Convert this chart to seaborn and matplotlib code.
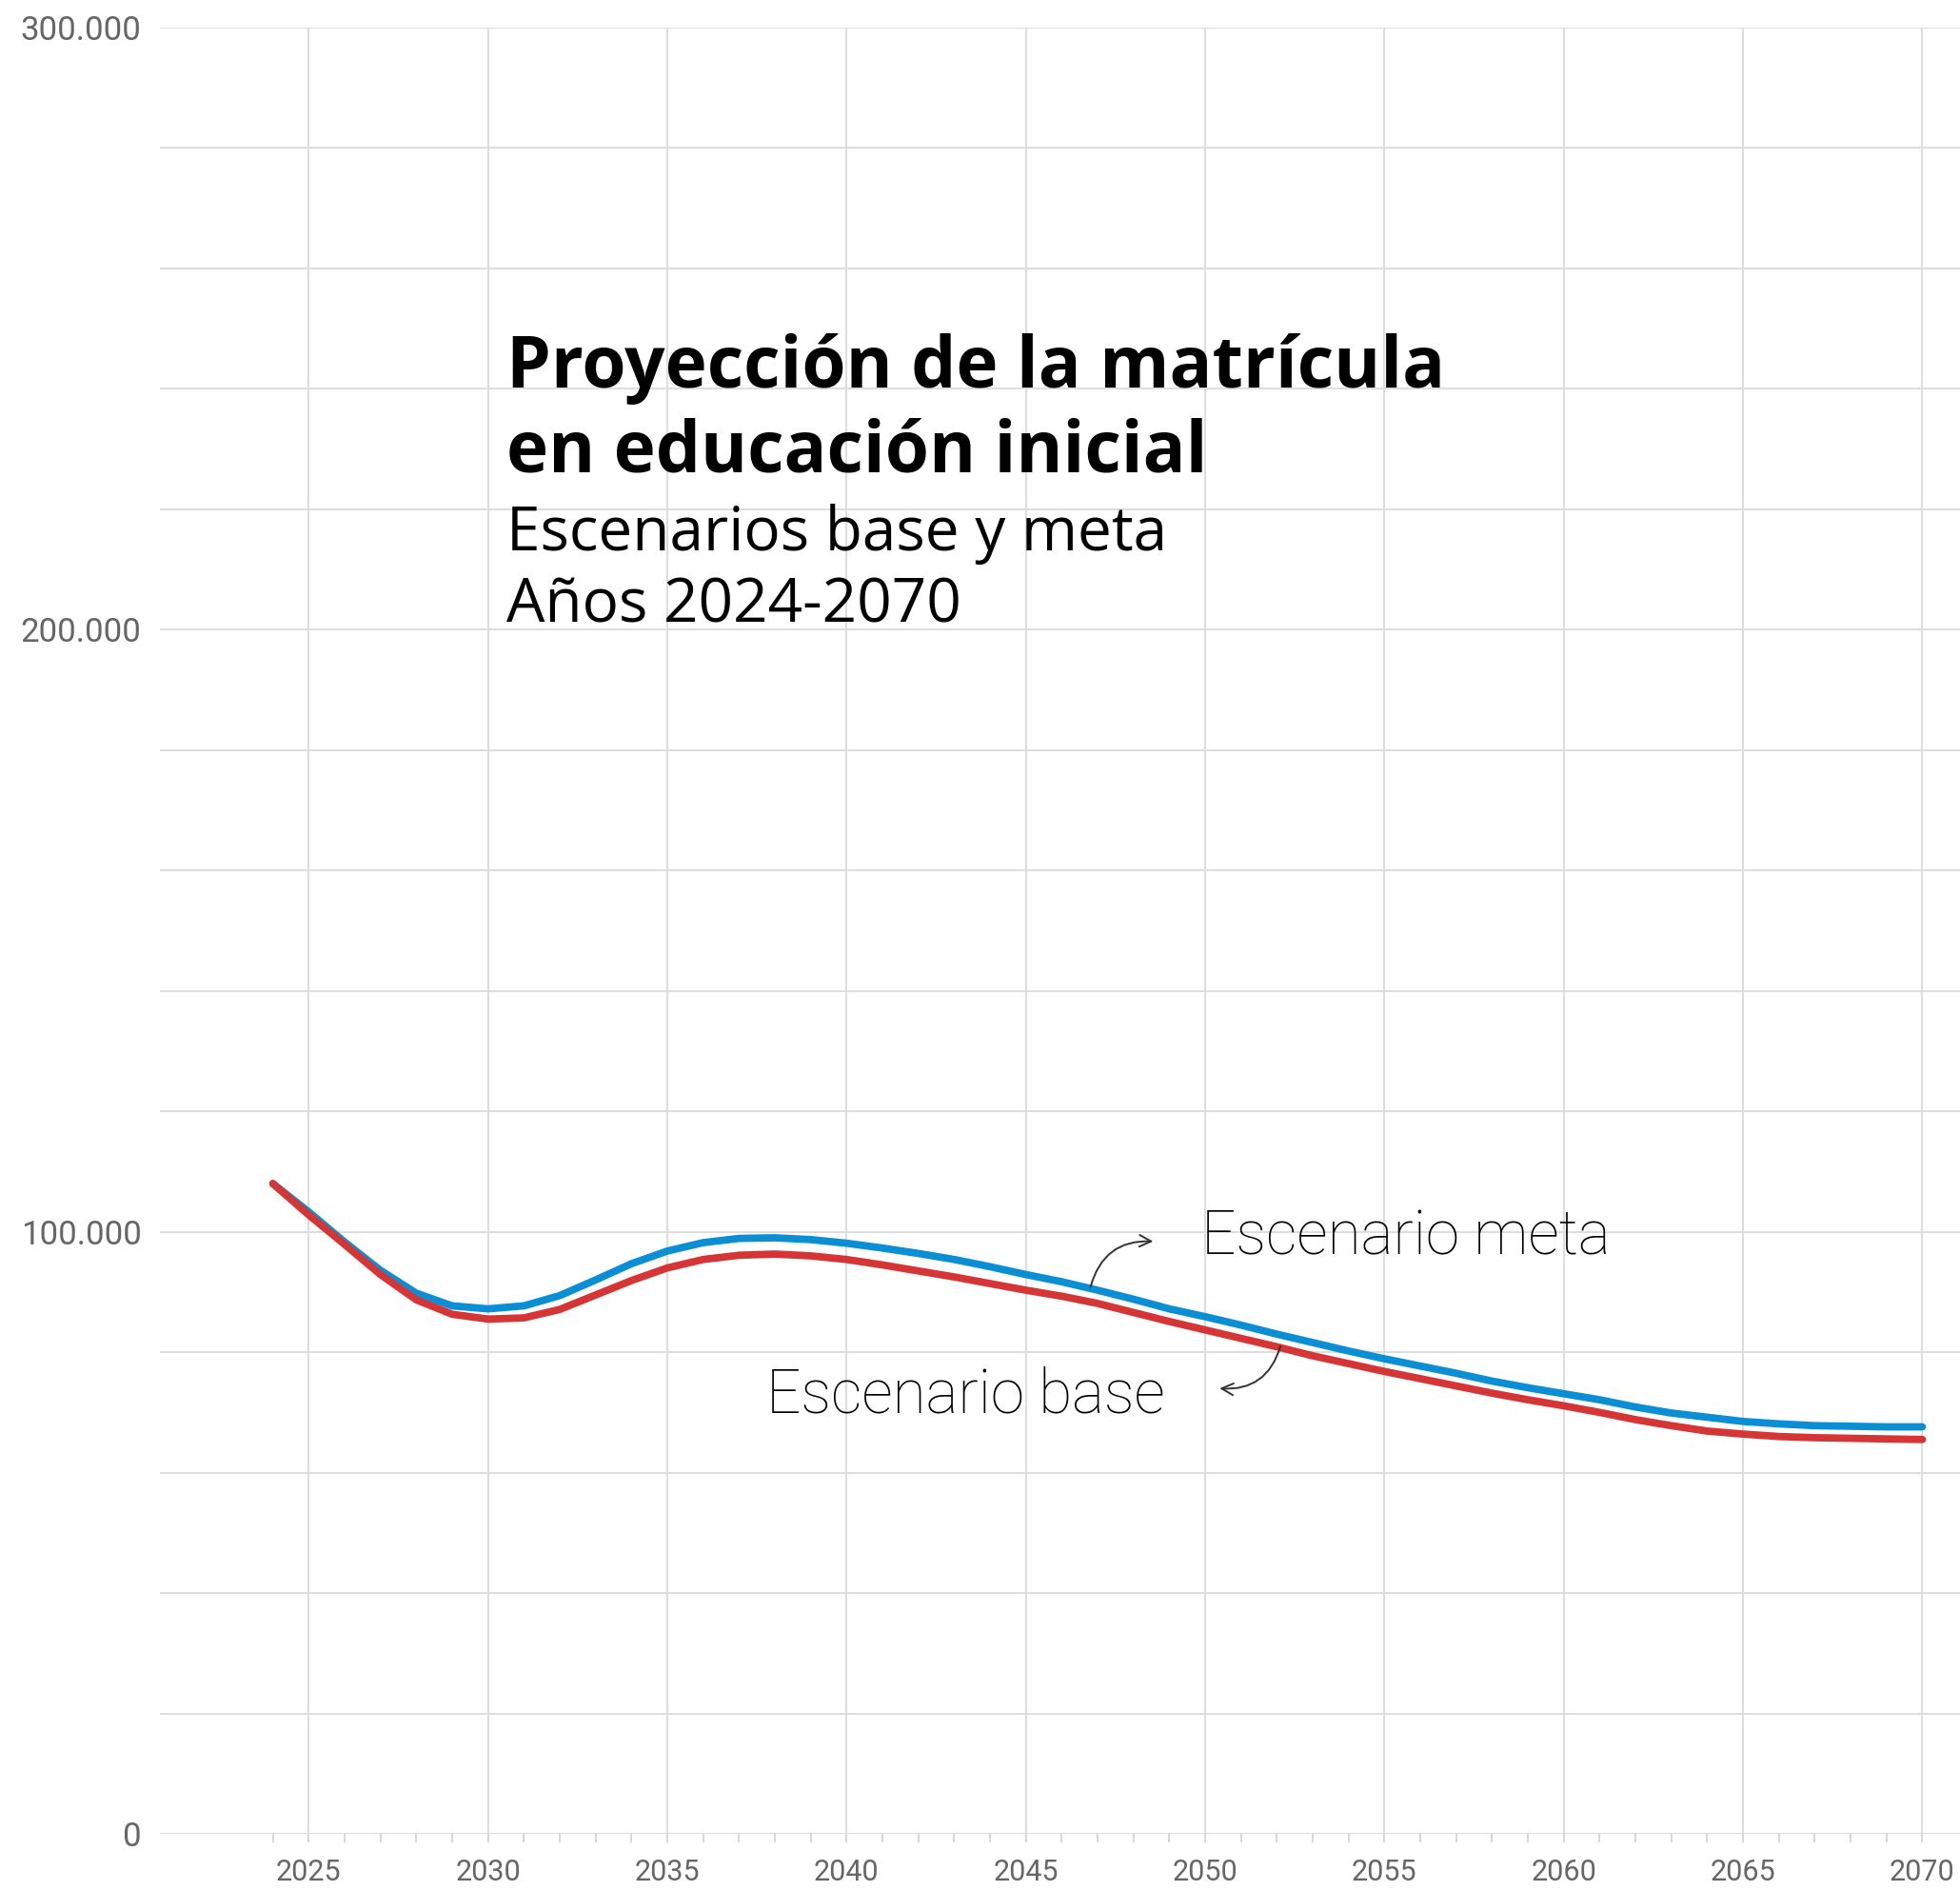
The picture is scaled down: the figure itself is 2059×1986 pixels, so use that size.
import matplotlib
matplotlib.use("Agg")
import matplotlib.pyplot as plt
import matplotlib.ticker as mticker
import numpy as np
import pandas as pd
import seaborn as sns

# datos (miles de matriculados)
anios = list(range(2024, 2071))
meta = [108.0, 103.3, 98.3, 93.6, 89.8, 87.7, 87.2, 87.7, 89.4, 92.0,
        94.7, 96.8, 98.2, 98.9, 99.0, 98.7, 98.1, 97.3, 96.4, 95.4,
        94.2, 92.9, 91.7, 90.3, 88.8, 87.2, 85.9, 84.5, 83.0, 81.6,
        80.2, 78.9, 77.7, 76.5, 75.2, 74.1, 73.1, 72.1, 70.9, 69.9,
        69.2, 68.5, 68.1, 67.8, 67.7, 67.6, 67.6]
base = [108.0, 102.8, 97.9, 92.9, 88.7, 86.3, 85.5, 85.7, 87.1, 89.5,
        91.9, 94.0, 95.4, 96.1, 96.3, 96.0, 95.4, 94.5, 93.5, 92.5,
        91.4, 90.3, 89.3, 88.1, 86.6, 85.1, 83.7, 82.3, 80.9, 79.4,
        78.1, 76.8, 75.6, 74.4, 73.2, 72.1, 71.1, 70.0, 68.8, 67.8,
        66.9, 66.4, 66.0, 65.8, 65.7, 65.6, 65.5]
escenarios = ["Escenario meta", "Escenario base"]
colores = ["#0a8fd4", "#d63535"]

df = pd.DataFrame({
    "anio": anios * 2,
    "matricula": [v * 1000 for v in meta] + [v * 1000 for v in base],
    "escenario": [escenarios[0]] * len(anios) + [escenarios[1]] * len(anios),
})

sns.set_theme(style="white")
plt.rcParams["font.family"] = ["Roboto", "DejaVu Sans"]

fig = plt.figure(figsize=(20.59, 19.86), dpi=100)
ax = fig.add_axes([168 / 2059, 60 / 1986, 1 - 168 / 2059, (1926 - 29) / 1986])

sns.lineplot(data=df, x="anio", y="matricula", hue="escenario",
             hue_order=escenarios, palette=colores, linewidth=5.6,
             legend=False, ax=ax, solid_capstyle="round",
             solid_joinstyle="round")

ax.set_xlim(2020.85, 2071.05)
ax.set_ylim(0, 300000)
ax.set_xlabel("")
ax.set_ylabel("")

ax.xaxis.set_major_locator(mticker.MultipleLocator(5))
ax.xaxis.set_minor_locator(mticker.FixedLocator(anios))
ax.yaxis.set_major_locator(mticker.MultipleLocator(20000))
ax.yaxis.set_major_formatter(mticker.FuncFormatter(
    lambda v, p: f"{int(v):,}".replace(",", ".") if v % 100000 == 0 else ""))

ax.grid(True, which="major", color="#dddddd", linewidth=1.4)
ax.set_axisbelow(True)
for s in ax.spines.values():
    s.set_visible(False)

ax.tick_params(axis="x", which="both", bottom=True, length=6.5, width=1.2,
               color="#d0d0d0", labelsize=22, labelcolor="#666666", pad=12)
ax.tick_params(axis="y", which="both", left=False, labelsize=25,
               labelcolor="#666666", pad=8)

# anotaciones
ax.text(2049.9, 96300, "Escenario meta", fontsize=46, fontweight="light",
        color="black", ha="left", va="baseline")
ax.text(2037.75, 69900, "Escenario base", fontsize=46, fontweight="light",
        color="black", ha="left", va="baseline")
ax.annotate("", xy=(2048.55, 98400), xytext=(2046.8, 90800),
            arrowprops=dict(arrowstyle="->", color="#333333", lw=1.4,
                            connectionstyle="arc3,rad=-0.4",
                            shrinkA=0, shrinkB=0, mutation_scale=22))
ax.annotate("", xy=(2050.4, 74000), xytext=(2052.1, 81000),
            arrowprops=dict(arrowstyle="->", color="#333333", lw=1.4,
                            connectionstyle="arc3,rad=-0.4",
                            shrinkA=0, shrinkB=0, mutation_scale=22))

# titulo
tf = ["Open Sans", "DejaVu Sans"]
fig.text(532 / 2059, 1 - 407 / 1986, "Proyección de la matrícula",
         fontsize=53.7, fontweight="bold", family=tf, color="black", va="baseline")
fig.text(532 / 2059, 1 - 496 / 1986, "en educación inicial",
         fontsize=53.7, fontweight="bold", family=tf, color="black", va="baseline")
fig.text(532 / 2059, 1 - 578 / 1986, "Escenarios base y meta",
         fontsize=46, family=tf, color="black", va="baseline")
fig.text(532 / 2059, 1 - 654 / 1986, "Años 2024-2070",
         fontsize=46, family=tf, color="black", va="baseline")

fig.savefig("out.png", dpi=100)
